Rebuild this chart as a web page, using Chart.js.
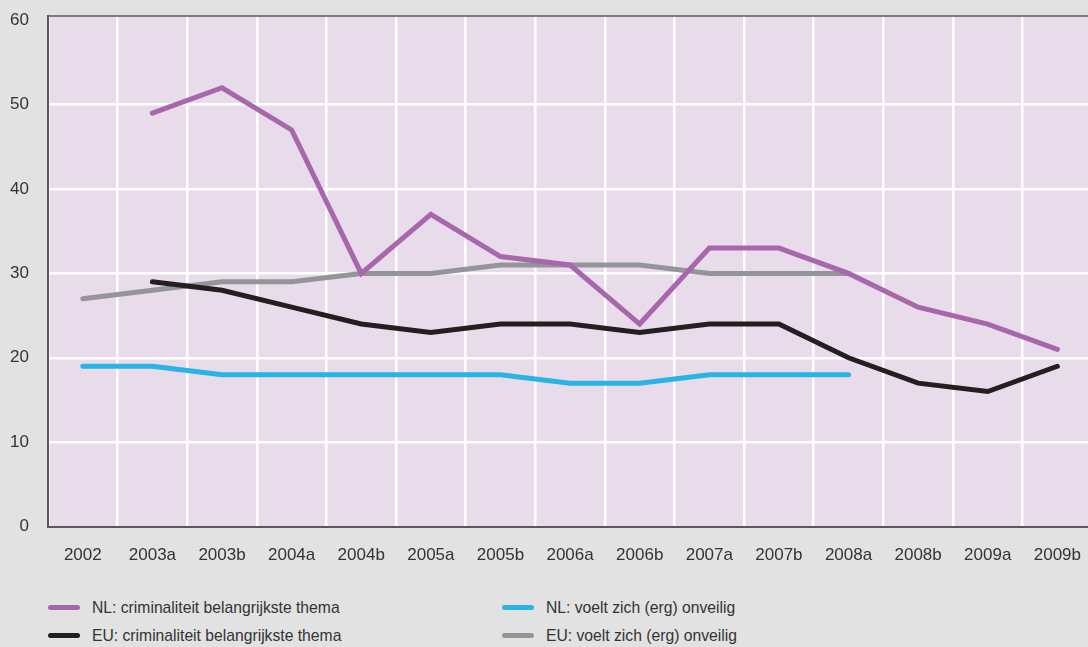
<!DOCTYPE html>
<html>
<head>
<meta charset="utf-8">
<script src="https://cdn.jsdelivr.net/npm/chart.js@4/dist/chart.umd.min.js"></script>
<style>
  body { margin: 0; background: #e1e2e1; overflow: hidden; font-family: "Liberation Sans", Arial, sans-serif; }
  #wrap { position: absolute; left: 0; top: 0; width: 1100px; height: 589px; }
  #legend {
    position: absolute; left: 48px; top: 597px;
    display: grid; grid-template-columns: 454px 400px; row-gap: 7px;
    font-size: 15.7px; color: #333;
  }
  .item { display: flex; align-items: center; height: 21px; }
  .swatch { width: 32px; height: 5px; border-radius: 3px; margin-right: 12px; }
</style>
</head>
<body>
<div id="wrap"><canvas id="chart"></canvas></div>
<div id="legend"></div>
<script>
const labels = ['2002', '2003a', '2003b', '2004a', '2004b', '2005a', '2005b', '2006a',
  '2006b', '2007a', '2007b', '2008a', '2008b', '2009a', '2009b'];

const nlCrime = [null, 49, 52, 47, 30, 37, 32, 31, 24, 33, 33, 30, 26, 24, 21];
const nlUnsafe = [19, 19, 18, 18, 18, 18, 18, 17, 17, 18, 18, 18, null, null, null];
const euCrime = [null, 29, 28, 26, 24, 23, 24, 24, 23, 24, 24, 20, 17, 16, 19];
const euUnsafe = [27, 28, 29, 29, 30, 30, 31, 31, 31, 30, 30, 30, null, null, null];

const yTicks = [0, 10, 20, 30, 40, 50, 60];

const series = [
  { label: 'NL: criminaliteit belangrijkste thema', data: nlCrime, color: '#a866ac' },
  { label: 'NL: voelt zich (erg) onveilig', data: nlUnsafe, color: '#29b3e6' },
  { label: 'EU: criminaliteit belangrijkste thema', data: euCrime, color: '#231f20' },
  { label: 'EU: voelt zich (erg) onveilig', data: euUnsafe, color: '#939598' },
];

// pink plot background and the dark top edge
const plotFrame = {
  id: 'plotFrame',
  beforeDraw(chart) {
    const { ctx, chartArea: a } = chart;
    ctx.save();
    ctx.fillStyle = '#e8dbea';
    ctx.fillRect(a.left, a.top, a.right - a.left, a.bottom - a.top);
    ctx.restore();
  },
  afterDraw(chart) {
    const { ctx, chartArea: a } = chart;
    ctx.save();
    ctx.strokeStyle = '#58595b';
    ctx.lineWidth = 1.5;
    ctx.beginPath();
    ctx.moveTo(a.left, a.top);
    ctx.lineTo(a.right, a.top);
    ctx.stroke();
    ctx.restore();
  },
};

const font = { family: '"Liberation Sans", Arial, sans-serif', size: 17 };

new Chart(document.getElementById('chart'), {
  type: 'line',
  data: {
    labels: labels,
    datasets: series.map(s => ({
      label: s.label,
      data: s.data,
      borderColor: s.color,
      backgroundColor: s.color,
      borderWidth: 5,
      borderCapStyle: 'round',
      borderJoinStyle: 'miter',
      pointRadius: 0,
      pointHoverRadius: 0,
      tension: 0,
      spanGaps: false,
    })),
  },
  options: {
    responsive: true,
    maintainAspectRatio: false,
    animation: false,
    layout: { padding: { top: 16, right: 0, bottom: 4, left: 0 } },
    plugins: {
      legend: { display: false },
      tooltip: { enabled: false },
    },
    scales: {
      x: {
        offset: true,
        grid: { offset: true, color: '#ffffff', lineWidth: 2.5, drawTicks: false },
        border: { color: '#58595b', width: 2 },
        ticks: { color: '#333', font: font, padding: 19, maxRotation: 0, autoSkip: false },
      },
      y: {
        min: 0,
        max: 60.5,
        afterBuildTicks: scale => {
          scale.ticks = yTicks.map(v => ({ value: v }));
        },
        afterFit: scale => {
          scale.width = 48;
          scale.paddingTop = 0;
          scale.paddingBottom = 0;
        },
        grid: {
          color: ctx => (ctx.tick && ctx.tick.value > 0 && ctx.tick.value < 60) ? '#ffffff' : 'rgba(0,0,0,0)',
          lineWidth: 2.5,
          drawTicks: false,
        },
        border: { color: '#58595b', width: 2 },
        ticks: { color: '#333', font: font, padding: 19 },
      },
    },
  },
  plugins: [plotFrame],
});

// legend in two columns, same order as the reference
const legend = document.getElementById('legend');
series.forEach(s => {
  const item = document.createElement('div');
  item.className = 'item';
  const sw = document.createElement('span');
  sw.className = 'swatch';
  sw.style.background = s.color;
  const txt = document.createElement('span');
  txt.textContent = s.label;
  item.appendChild(sw);
  item.appendChild(txt);
  legend.appendChild(item);
});
</script>
</body>
</html>
